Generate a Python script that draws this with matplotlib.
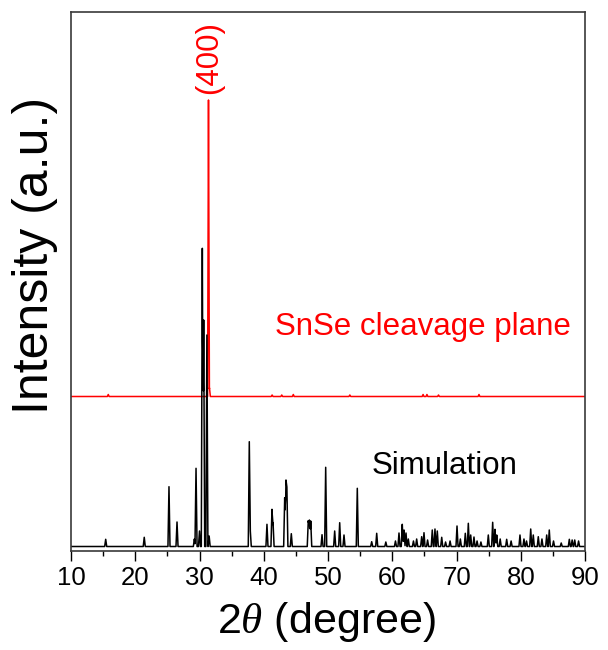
import numpy as np
import matplotlib
matplotlib.use('Agg')
import matplotlib.pyplot as plt
from matplotlib.ticker import MultipleLocator

plt.rcParams['font.family'] = ['Liberation Sans', 'DejaVu Sans']
plt.rcParams['mathtext.fontset'] = 'custom'
plt.rcParams['mathtext.rm'] = 'Liberation Sans'
plt.rcParams['mathtext.it'] = 'Liberation Serif:italic'

# simulated pattern: peak positions (2theta, deg) and peak tops (a.u.)
sim_pos = [15.4, 21.4, 25.25, 26.5, 29.2, 29.46, 30.0, 30.44, 30.65, 31.15, 31.5,
           37.75, 37.9, 40.5, 41.28, 41.45, 43.26, 43.46, 43.6, 44.29,
           46.93, 47.1, 47.31, 49.07, 49.64, 51.04, 51.82, 52.49, 54.56,
           56.8, 57.58, 59.0, 60.5, 61.05, 61.56, 61.83, 62.14, 62.5, 63.3,
           63.8, 64.58, 64.94, 65.5, 66.23, 66.65, 67.01, 67.7, 68.3, 69.0,
           70.08, 70.6, 71.37, 71.84, 72.21, 72.72, 73.2, 73.8, 74.95, 75.63,
           75.99, 76.26, 76.8, 77.81, 78.5, 79.88, 80.5, 80.9, 81.55, 81.95,
           82.73, 83.3, 84.04, 84.44, 85.1, 86.3, 87.56, 88.0, 88.4, 89.0]
sim_top = [11.7, 13.7, 64.3, 29, 12, 82.7, 20, 302.7, 231, 216, 15,
           109.3, 21, 26.7, 41.7, 28, 53.3, 71, 64, 17.3,
           30.3, 31, 30, 16.3, 83.7, 20, 28.3, 16, 62.7,
           9.3, 17.7, 9, 10, 18, 26.7, 21, 18, 12, 10,
           12, 14.3, 18.3, 11, 21, 22, 20, 13.7, 9, 10,
           25, 12, 17.7, 27.7, 16, 14, 10, 9, 16, 28.7,
           21.7, 16, 12, 11.7, 10, 16, 12, 10, 22, 16,
           14.3, 12, 16, 21, 10, 8, 11.7, 11, 11, 10]
sim_base = 4.5

# measured pattern of the cleavage plane (offset trace)
exp_pos = [15.8, 31.4, 31.55, 41.3, 42.8, 44.6, 53.4, 64.8, 65.4, 67.2, 73.5]
exp_top = [156.5, 451, 163, 156, 156, 156.5, 156, 156.5, 156.5, 156, 156.5]
exp_base = 154.5


def trace(pos, top, base, hw):
  xs = [10.0, 90.0]
  for p in pos:
    xs += [p - hw, p, p + hw]
  xs = np.array(sorted(xs))
  ys = np.full(xs.shape, base)
  for p, t in zip(pos, top):
    tri = base + (t - base) * np.clip(1 - np.abs(xs - p) / hw, 0, None)
    ys = np.maximum(ys, tri)
  return xs, ys


fig = plt.figure(figsize=(6.08, 6.5), dpi=100)
ax  = fig.add_axes([71 / 608, 99 / 650, 514 / 608, 539 / 650])

x_exp, y_exp = trace(exp_pos, exp_top, exp_base, 0.14)
x_sim, y_sim = trace(sim_pos, sim_top, sim_base, 0.16)
ax.plot(x_exp, y_exp, color='#ff0000', lw=1.1)
ax.plot(x_sim, y_sim, color='black', lw=1.1)

ax.set_xlim(10, 90)
ax.set_ylim(0, 539)
ax.set_yticks([])
ax.xaxis.set_major_locator(MultipleLocator(10))
ax.xaxis.set_minor_locator(MultipleLocator(5))
ax.tick_params(axis='x', which='major', direction='out', length=7, width=1.0,
               labelsize=18.5, pad=4, colors='black')
ax.tick_params(axis='x', which='minor', direction='out', length=3.6, width=1.0)
for s in ax.spines.values():
  s.set_color('#3a3a3a')
  s.set_linewidth(1.2)

ax.text(31.5, 493, '(400)', color='#ff0000', fontsize=22.5, rotation=90,
        ha='center', va='center')
ax.text(41.75, 224, 'SnSe cleavage plane', color='#ff0000', fontsize=22.5,
        ha='left', va='center')
ax.text(56.85, 85, 'Simulation', color='black', fontsize=22.5,
        ha='left', va='center')

fig.text(35 / 608, 1 - 255 / 650, 'Intensity (a.u.)', fontsize=36,
         rotation=90, ha='center', va='center')
fig.text(326 / 608, 1 - 622 / 650, r'2$\theta$ (degree)', fontsize=31,
         ha='center', va='center')

fig.savefig('out.png', dpi=100)
